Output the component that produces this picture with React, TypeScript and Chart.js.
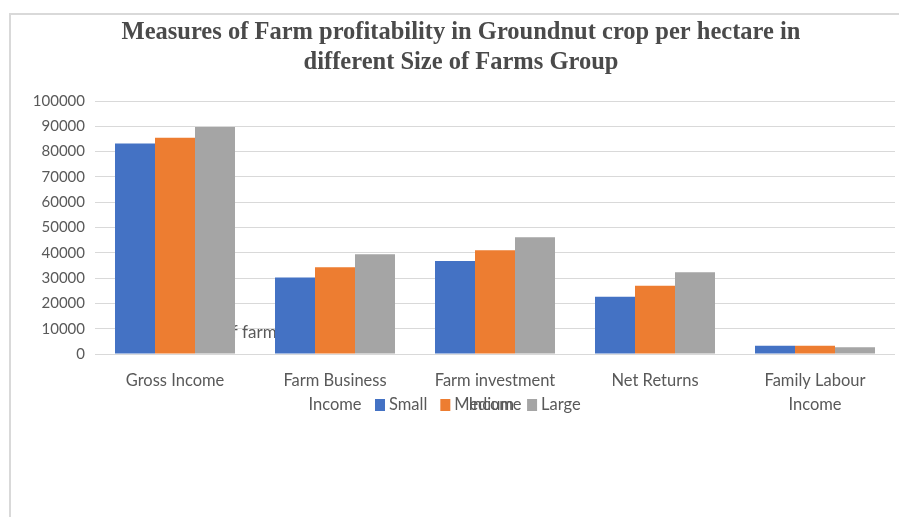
import React, { useEffect, useRef } from "react";
import { Chart, registerables } from "chart.js";

Chart.register(...registerables);

const categories: string[][] = [
  ["Gross Income"],
  ["Farm Business", "Income"],
  ["Farm investment", "Income"],
  ["Net Returns"],
  ["Family Labour", "Income"],
];
const seriesNames = ["Small", "Medium", "Large"];
const small = [83200, 30200, 36800, 22600, 3300];
const medium = [85500, 34300, 41000, 27000, 3300];
const large = [89700, 39400, 46100, 32300, 2700];
const colors = ["#4472C4", "#ED7D31", "#A5A5A5"];
const yTicks = [0, 10000, 20000, 30000, 40000, 50000, 60000, 70000, 80000, 90000, 100000];
const titleLines = [
  "Measures of Farm profitability in Groundnut crop per hectare in",
  "different Size of Farms Group",
];
const hiddenAxisTitle = "Size of farms";

const FONT = "Lato, 'Open Sans', sans-serif";
const TEXT = "#595959";

export default function App() {
  const ref = useRef<HTMLCanvasElement | null>(null);

  useEffect(() => {
    if (!ref.current) return;
    const decor = {
      id: "decor",
      beforeDraw(chart: any) {
        const ctx = chart.ctx;
        ctx.save();
        ctx.fillStyle = "#ffffff";
        ctx.fillRect(0, 0, chart.width, chart.height);
        ctx.strokeStyle = "#d9d9d9";
        ctx.lineWidth = 2;
        ctx.beginPath();
        ctx.moveTo(10, chart.height);
        ctx.lineTo(10, 14);
        ctx.lineTo(chart.width, 14);
        ctx.stroke();
        // title
        ctx.fillStyle = "#4a4a4a";
        ctx.font = "bold 24.5px 'Liberation Serif', 'Times New Roman', serif";
        ctx.textAlign = "center";
        ctx.textBaseline = "middle";
        ctx.fillText(titleLines[0], 461, 33);
        ctx.fillText(titleLines[1], 461, 63);
        ctx.restore();
      },
      beforeDatasetsDraw(chart: any) {
        const ctx = chart.ctx;
        ctx.save();
        ctx.fillStyle = TEXT;
        ctx.font = "17px " + FONT;
        ctx.textAlign = "left";
        ctx.textBaseline = "middle";
        const pre = ctx.measureText("Size o").width;
        ctx.fillText(hiddenAxisTitle, 232 - pre, 333);
        ctx.restore();
      },
      afterDraw(chart: any) {
        const ctx = chart.ctx;
        ctx.save();
        ctx.font = "16.5px " + FONT;
        ctx.textBaseline = "middle";
        ctx.textAlign = "left";
        const y = 405;
        let x = 375;
        chart.data.datasets.forEach((ds: any) => {
          ctx.fillStyle = ds.backgroundColor;
          ctx.fillRect(x, y - 6, 10, 12);
          ctx.fillStyle = TEXT;
          ctx.fillText(ds.label, x + 14, y);
          x += 14 + ctx.measureText(ds.label).width + 13;
        });
        ctx.restore();
      },
    };

    const chart = new Chart(ref.current, {
      type: "bar",
      data: {
        labels: categories,
        datasets: [
          { label: seriesNames[0], data: small, backgroundColor: colors[0] },
          { label: seriesNames[1], data: medium, backgroundColor: colors[1] },
          { label: seriesNames[2], data: large, backgroundColor: colors[2] },
        ],
      },
      options: {
        responsive: false,
        animation: false,
        devicePixelRatio: 1,
        layout: { padding: { left: 0, top: 101, right: 4, bottom: 0 } },
        datasets: { bar: { categoryPercentage: 0.75, barPercentage: 1.0 } },
        plugins: {
          legend: { display: false },
          title: { display: false },
          tooltip: { enabled: false },
        },
        scales: {
          x: {
            grid: { display: false, drawTicks: false },
            border: { display: false },
            ticks: {
              color: TEXT,
              font: { family: FONT, size: 16.5, lineHeight: 1.5 },
              padding: 14,
              maxRotation: 0,
              autoSkip: false,
            },
            afterFit(scale: any) {
              scale.height = 163;
            },
          },
          y: {
            min: 0,
            max: 100000,
            afterBuildTicks(scale: any) {
              scale.ticks = yTicks.map((v) => ({ value: v }));
            },
            grid: { color: "#d9d9d9", lineWidth: 1, drawTicks: false },
            border: { display: false },
            ticks: {
              color: TEXT,
              font: { family: FONT, size: 15 },
              padding: 10,
              callback: (v: any) => String(v),
            },
            afterFit(scale: any) {
              scale.width = 95;
            },
          },
        },
      },
      plugins: [decor],
    } as any);
    return () => chart.destroy();
  }, []);

  return (
    <div style={{ position: "fixed", left: 0, top: 0, width: 899, height: 517 }}>
      <canvas ref={ref} width={899} height={517} style={{ display: "block" }} />
    </div>
  );
}
